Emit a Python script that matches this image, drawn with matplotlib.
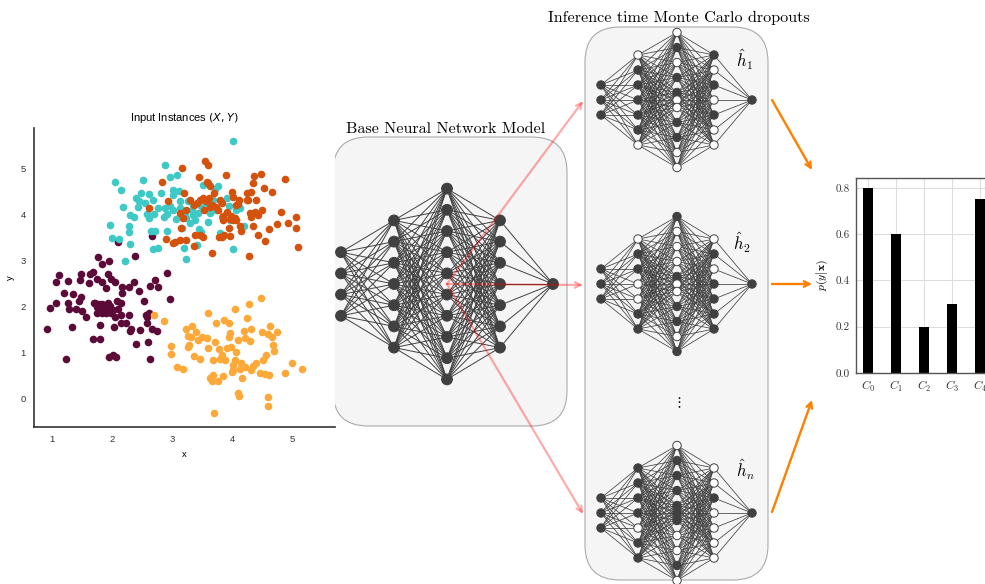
import matplotlib
matplotlib.use("Agg")
import matplotlib.pyplot as plt
from matplotlib.patches import Circle, FancyBboxPatch
from matplotlib.collections import LineCollection

plt.rcParams["mathtext.fontset"] = "cm"

# input instances, one list pair per cluster
maroon_x = [1.77, 1.84, 1.96, 2.39, 1.13, 1.07, 1.27, 1.47, 1.48, 1.64, 1.69, 1.62, 1.76, 1.84,
            1.94, 1.99, 2.06, 1.91, 2.17, 2.17, 2.29, 2.37, 2.45, 2.63, 2.72, 2.77, 2.92, 1.20,
            1.35, 1.48, 1.45, 1.27, 1.07, 0.97, 1.29, 1.41, 1.51, 1.57, 1.70, 1.76, 1.84, 1.90,
            1.97, 1.98, 1.84, 1.76, 2.08, 2.16, 2.11, 2.15, 2.29, 2.53, 2.62, 2.59, 2.59, 2.24,
            2.15, 2.04, 1.81, 1.33, 0.93, 2.30, 2.47, 2.66, 2.75, 2.41, 2.60, 1.68, 1.81, 1.24,
            1.95, 2.02, 2.07, 2.64, 2.96, 2.11, 2.67, 1.80, 1.86, 1.91, 1.79, 2.02, 1.72, 1.87,
            1.94, 2.05, 2.32, 2.57]
maroon_y = [3.07, 2.93, 3.00, 3.09, 2.69, 2.54, 2.55, 2.57, 2.71, 2.70, 2.75, 2.52, 2.59, 2.54,
            2.70, 2.61, 2.54, 2.41, 2.42, 2.30, 2.42, 2.54, 2.33, 2.45, 2.58, 2.43, 2.72, 2.30,
            2.28, 2.22, 2.13, 2.09, 2.09, 1.97, 1.94, 1.96, 1.91, 1.77, 2.07, 1.99, 2.06, 1.94,
            2.02, 1.86, 1.86, 1.86, 2.12, 2.07, 1.94, 1.83, 1.81, 2.12, 1.87, 1.77, 1.65, 1.65,
            1.64, 1.55, 1.61, 1.57, 1.52, 1.47, 1.50, 1.51, 1.48, 1.19, 1.24, 1.31, 1.31, 0.87,
            0.90, 0.96, 0.92, 0.87, 2.17, 3.40, 3.53, 1.94, 1.91, 1.86, 2.06, 1.93, 2.07, 2.00,
            2.09, 1.78, 1.51, 1.82]

cyan_x = [4.02, 2.89, 2.06, 2.16, 2.51, 2.97, 3.08, 3.02, 2.81, 2.62, 2.48, 2.41, 2.46, 2.55,
          2.18, 1.97, 2.00, 2.12, 2.30, 2.28, 2.29, 2.31, 2.37, 2.44, 2.59, 2.70, 2.76, 2.62,
          2.86, 2.88, 2.91, 3.02, 3.07, 3.14, 3.13, 2.92, 2.65, 2.71, 2.69, 2.76, 2.22, 3.01,
          3.11, 3.20, 3.23, 3.26, 3.30, 3.33, 3.35, 3.41, 3.45, 3.49, 3.52, 3.49, 3.60, 3.63,
          3.68, 3.71, 3.77, 3.80, 3.83, 3.91, 3.95, 3.96, 4.02, 4.06, 4.13, 4.19, 3.16, 3.24,
          3.35, 3.44, 2.97, 2.68, 3.13, 3.22, 3.38, 3.58, 3.74]
cyan_y = [5.58, 5.07, 4.71, 4.52, 4.75, 4.80, 4.85, 4.42, 4.46, 4.44, 4.46, 4.35, 4.28, 4.24,
          4.15, 3.76, 3.48, 3.46, 3.35, 3.74, 3.62, 3.99, 3.94, 4.15, 4.00, 4.01, 4.13, 3.92,
          3.94, 4.14, 4.01, 4.10, 3.89, 3.97, 4.29, 3.64, 3.63, 3.63, 3.25, 3.27, 2.98, 4.52,
          4.50, 3.27, 3.03, 4.28, 3.81, 4.10, 4.21, 3.34, 3.68, 4.17, 4.64, 3.61, 3.84, 4.02,
          4.31, 4.54, 4.62, 3.59, 3.95, 4.35, 4.17, 3.88, 3.25, 4.10, 4.13, 3.74, 3.70, 3.92,
          3.99, 4.02, 4.17, 4.30, 4.13, 4.02, 3.88, 4.24, 4.10]

rust_x = [2.84, 2.61, 3.16, 3.55, 3.60, 3.45, 3.90, 4.36, 4.48, 4.88, 4.35, 4.32, 4.53, 4.66,
          4.00, 4.02, 4.27, 4.40, 4.07, 3.20, 3.60, 4.82, 5.06, 5.07, 4.93, 4.75, 4.61, 5.10,
          4.28, 3.66, 3.23, 3.37, 3.52, 3.66, 3.83, 3.91, 3.85, 3.96, 4.06, 4.32, 4.43, 4.49,
          4.35, 4.43, 4.55, 4.14, 3.96, 3.83, 3.52, 3.38, 3.13, 3.05, 2.90, 3.02, 3.24, 3.37,
          2.94, 3.13, 3.15, 3.18, 3.30, 3.41, 3.47, 3.53, 3.57, 3.62, 3.64, 3.70, 3.73, 3.77,
          3.80, 3.84, 3.86, 3.94, 3.98, 4.01, 4.05, 4.13, 4.24, 4.29, 4.38, 3.47, 3.78, 4.09,
          3.58, 3.64, 4.12, 4.25]
rust_y = [4.71, 4.13, 5.01, 5.15, 5.06, 4.80, 4.86, 4.83, 4.88, 4.77, 4.67, 4.48, 4.56, 4.49,
          4.49, 4.37, 4.31, 4.31, 4.21, 4.46, 4.67, 4.04, 3.94, 3.71, 3.81, 3.79, 3.68, 3.29,
          3.09, 3.17, 4.10, 4.20, 4.35, 4.21, 4.24, 4.04, 3.88, 3.89, 3.88, 3.95, 3.99, 4.10,
          3.74, 3.55, 3.43, 3.63, 3.52, 3.50, 3.50, 3.55, 3.45, 3.41, 3.46, 3.39, 3.45, 3.32,
          4.28, 4.02, 3.70, 3.92, 4.30, 4.24, 4.31, 4.10, 4.28, 4.35, 4.15, 4.46, 4.15, 4.10,
          4.31, 3.97, 3.55, 3.70, 3.97, 3.88, 3.92, 3.74, 4.31, 4.02, 4.06, 3.55, 3.51, 4.23,
          4.71, 4.62, 4.31, 4.47]

amber_x = [2.70, 2.86, 2.98, 2.99, 3.09, 3.18, 3.26, 3.24, 3.29, 3.32, 3.33, 3.37, 3.40, 3.47,
           3.58, 3.60, 3.60, 3.63, 3.67, 3.69, 3.70, 3.71, 3.74, 3.77, 3.78, 3.80, 3.83, 3.85,
           3.87, 3.88, 3.91, 3.94, 3.95, 3.96, 3.98, 3.99, 4.02, 4.04, 4.04, 4.07, 4.09, 4.10,
           4.12, 4.13, 4.15, 4.17, 4.19, 4.21, 4.22, 4.24, 4.28, 4.30, 4.31, 4.32, 4.35, 4.39,
           4.46, 4.48, 4.49, 4.52, 4.55, 4.57, 4.59, 4.60, 4.59, 4.61, 4.63, 4.66, 4.68, 4.70,
           4.74, 4.88, 4.99, 5.16, 3.50, 3.69, 4.02, 3.27, 3.44]
amber_y = [1.82, 1.69, 1.15, 0.98, 0.70, 0.66, 1.37, 1.51, 1.18, 1.34, 1.58, 0.93, 1.46, 0.87,
           1.33, 1.87, 1.10, 0.46, 0.38, 0.51, -0.31, 1.24, 1.65, 0.39, 1.08, 0.87, 0.95, 0.50,
           1.71, 0.85, 1.10, 1.34, 1.64, 1.42, 1.12, 0.59, 0.74, 1.94, 0.85, 1.01, 0.12, 1.28,
           0.07, 0.64, 0.77, 0.45, 1.48, 1.32, 0.70, 1.75, 2.06, 1.26, 1.51, 0.63, 0.72, 0.79,
           0.57, 2.18, 1.46, 0.85, 0.54, 0.95, 1.40, 0.04, -0.15, 0.52, 1.59, 1.35, 1.17, 1.03,
           1.46, 0.56, 0.77, 0.66, 1.35, 0.85, 0.63, 1.13, 1.28]

# predictive distribution over classes
class_names = ["$C_0$", "$C_1$", "$C_2$", "$C_3$", "$C_4$"]
class_probs = [0.80, 0.60, 0.20, 0.30, 0.75]

# base network: neurons per layer
base_layers = [4, 7, 10, 7, 1]

# dropout samples: 1 = kept neuron, 0 = dropped neuron
mc_masks = [
    [[1, 1, 1],
     [0, 1, 1, 1, 1, 1, 0],
     [0, 1, 0, 1, 1, 0, 0, 1, 1, 0, 0],
     [1, 0, 1, 0, 1, 0, 0],
     [1]],
    [[1, 1, 1],
     [0, 1, 1, 0, 0, 1, 1],
     [1, 0, 0, 0, 1, 0, 0, 1, 1, 0, 1],
     [0, 1, 0, 1, 1, 1, 1],
     [1]],
    [[1, 1, 1],
     [1, 1, 1, 1, 0, 1, 1],
     [0, 1, 1, 1, 1, 1, 1, 0, 0, 1, 0],
     [0, 0, 1, 0, 0, 0, 0],
     [1]],
]
mc_names = [r"$\hat{h}_1$", r"$\hat{h}_2$", r"$\hat{h}_n$"]

NODE = "#404040"


def draw_net(ax, xs, cy, offsets, masks, r, lw):
    pts = [[(x, cy + o) for o in offs] for x, offs in zip(xs, offsets)]
    segs = []
    for a, b in zip(pts[:-1], pts[1:]):
        for p in a:
            for q in b:
                segs.append([p, q])
    ax.add_collection(LineCollection(segs, colors=NODE, linewidths=lw, zorder=2))
    for layer, mask in zip(pts, masks):
        for (x, y), keep in zip(layer, mask):
            ax.add_patch(Circle((x, y), r, facecolor=NODE if keep else "white",
                                edgecolor=NODE, linewidth=0.7, zorder=3))


def column(n, step):
    return [(i - (n - 1) / 2) * step for i in range(n)]


fig = plt.figure(figsize=(9.85, 5.84), dpi=100)

# canvas in pixel units for the diagram parts
bg = fig.add_axes([0, 0, 1, 1])
bg.set_xlim(0, 985)
bg.set_ylim(584, 0)
bg.axis("off")

box_kw = dict(boxstyle="round,pad=0,rounding_size=35", facecolor="#f5f5f5",
              edgecolor="#aaaaaa", linewidth=0.8, zorder=1)
bg.add_patch(FancyBboxPatch((333, 137), 234, 289, **box_kw))
bg.add_patch(FancyBboxPatch((585, 27), 183, 553, **box_kw))

bg.text(446, 133, "Base Neural Network Model", family="cmr10", fontsize=11.6,
        ha="center", va="baseline")
bg.text(679, 22, "Inference time Monte Carlo dropouts", family="cmr10", fontsize=11.6,
        ha="center", va="baseline")

base_x = [341, 394, 447, 500, 553]
draw_net(bg, base_x, 284, [column(n, 21.2) for n in base_layers],
         [[1] * n for n in base_layers], 5.4, 0.7)

mc_x = [601, 638, 677, 714, 752]
mid = [-67.5, -52.5, -37.5, -22.5, -7.5, 0, 7.5, 22.5, 37.5, 52.5, 67.5]
mc_offsets = [column(3, 15), column(7, 15), mid, column(7, 15), [0]]
mc_y = [100, 284, 513]
label_pos = [(745, 60), (742, 243), (745, 470)]
for cy, mask, name, (lx, ly) in zip(mc_y, mc_masks, mc_names, label_pos):
    draw_net(bg, mc_x, cy, mc_offsets, mask, 4.2, 0.55)
    bg.text(lx, ly, name, fontsize=12, ha="center", va="center")
bg.text(678, 403, r"$\vdots$", fontsize=10, ha="center", va="center")

# sampling arrows into each dropout network
for cy in mc_y:
    bg.annotate("", xy=(583, cy + 1), xytext=(447, 284),
                arrowprops=dict(arrowstyle="->", color="red", alpha=0.33, lw=1.6,
                                shrinkA=0, shrinkB=0), zorder=4)

# outputs feeding the predictive distribution
for (x0, y0), (x1, y1) in [((772, 100), (812, 170)), ((772, 284), (812, 284)),
                           ((772, 512), (812, 400))]:
    bg.annotate("", xy=(x1, y1), xytext=(x0, y0),
                arrowprops=dict(arrowstyle="->", color="#ff8000", lw=1.7,
                                shrinkA=0, shrinkB=0), zorder=4)

# scatter of the input instances
ax = fig.add_axes([0.0345, 0.2688, 0.3056, 0.512])
for xs, ys, c in [(maroon_x, maroon_y, "#5c0b38"), (cyan_x, cyan_y, "#3ec9c6"),
                  (rust_x, rust_y, "#d4520c"), (amber_x, amber_y, "#fda93a")]:
    ax.scatter(xs, ys, s=30, color=c, linewidths=0, zorder=2)
ax.set_xlim(0.706, 5.71)
ax.set_ylim(-0.607, 5.87)
ax.set_xticks([1, 2, 3, 4, 5])
ax.set_yticks([0, 1, 2, 3, 4, 5])
ax.tick_params(length=0, labelsize=6.8, colors="#333333", pad=6)
for lab in ax.get_xticklabels() + ax.get_yticklabels():
    lab.set_family("Liberation Sans")
for s in ["top", "right"]:
    ax.spines[s].set_visible(False)
for s in ["left", "bottom"]:
    ax.spines[s].set_color("#333333")
    ax.spines[s].set_linewidth(1.2)
ax.set_xlabel("x", family="Liberation Sans", fontsize=6.8, labelpad=4)
ax.set_ylabel("y", family="Liberation Sans", fontsize=6.8, labelpad=4)
ax.set_title("Input Instances $(X, Y)$", family="Liberation Sans", fontsize=8,
             math_fontfamily="dejavusans", pad=5)

# class probabilities
bx = fig.add_axes([0.8687, 0.3613, 0.203, 0.334])
pos = range(len(class_probs))
bx.set_axisbelow(True)
bx.grid(True, color="#dddddd", linewidth=0.8)
bx.bar(pos, class_probs, width=0.36, color="black")
bx.set_xlim(-0.43, 6.71)
bx.set_ylim(0, 0.843)
bx.set_xticks(list(pos))
bx.set_xticklabels(class_names, fontsize=8.5)
bx.set_yticks([0.0, 0.2, 0.4, 0.6, 0.8])
bx.set_yticklabels(["0.0", "0.2", "0.4", "0.6", "0.8"], family="cmr10", fontsize=8)
bx.tick_params(length=0, colors="#333333", pad=4)
for s in bx.spines.values():
    s.set_color("#555555")
    s.set_linewidth(1.0)
bx.set_ylabel(r"$p(y|\mathbf{x})$", fontsize=8.5, labelpad=4)

fig.savefig("out.png", dpi=100)
